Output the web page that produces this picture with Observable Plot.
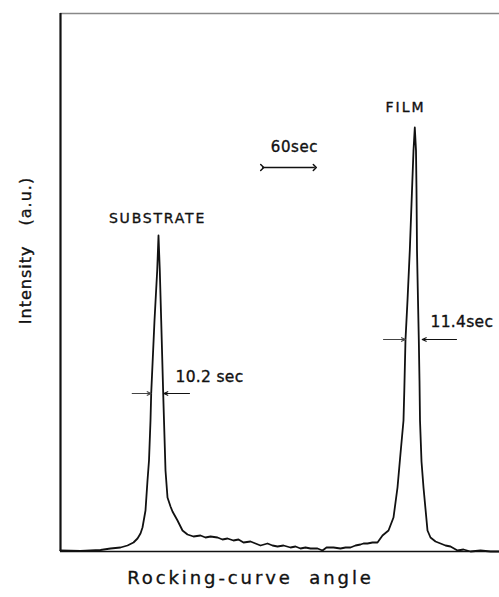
<!DOCTYPE html>
<html><head><meta charset="utf-8">
<script src="https://cdn.jsdelivr.net/npm/d3@7"></script>
<script src="https://cdn.jsdelivr.net/npm/@observablehq/plot@0.6"></script>
<style>
html,body{margin:0;padding:0;background:#fff;}
#chart svg{display:block;}
</style></head><body><div id="chart"></div>
<script>
// Rocking-curve scan (angle in arbitrary units, intensity in a.u.)
const angle = [0,20,40,50,60,67,73,77,80,82,85,87,88.5,90,90.7,94,96.7,98,99.3,100.7,102.7,103.5,105,107,110,112,117,122,127,133,140,145,150,157,162,167,173,178,183,190,195,200,207,212,217,223,230,235,240,245,250,257,262,266,273,280,285,290,295,300,303,307,312,317,322,328,333,337,340,343,343.8,345,347,349.3,351.5,353,354.3,355.5,356,356.5,357.5,358.3,359,359.5,361,363,367,370,375,380,385,390,397,403,410,420,430,439];
const intensity = [1,0.5,1.5,3,4,6,9,13,18,24,41,71,91,131,158,231,281,316,281,231,158,131,81,54,45,40,31,21,17,15,16,14,15,14,12,13,11,12,9,10,8,6,8,6,5,6,4,5,3,4,3,3,1,4,4,3,4,4,6,7,8,8,9,9,16,21,34,64,98,131,161,212,251,301,361,401,424,401,361,301,251,212,171,131,90,64,21,14,10,8,6,5,1,2,0,1,0,0];

// Peak labels
const peakNames = ["SUBSTRATE", "FILM"];
const peakNameX = [97, 345];
const peakNameY = [333, 444];

// FWHM annotations
const fwhmText = ["10.2 sec", "11.4sec"];
const fwhmTextX = [115, 370];
const fwhmTextY = [174, 229];
const halfMax = [158, 212];
const edgeLeft = [90.7, 345];
const edgeRight = [103.3, 361.7];
const tailLeft = [71.7, 323];
const tailRight = [129, 396];

// 60 sec scale bar
const scaleText = ["60sec"];
const scaleX1 = [201.7], scaleX2 = [254.3], scaleY = [384], scaleTextY = [404];

const xLabel = "Rocking-curve angle";
const yLabel = "Intensity (a.u.)";

const curve = angle.map((a, i) => ({angle: a, intensity: intensity[i]}));
const idx = [0, 1];
const ink = {fill: "#111", stroke: "#111", strokeWidth: 0.35};

const plot = Plot.plot({
  width: 499, height: 597,
  marginLeft: 60, marginRight: 0, marginTop: 13, marginBottom: 46,
  x: {domain: [0, 439], axis: null},
  y: {domain: [0, 538], axis: null},
  style: {fontFamily: "DejaVu Sans", background: "white", color: "#111"},
  marks: [
    Plot.ruleY([538], {stroke: "#888", strokeWidth: 1.5}),
    Plot.ruleY([0], {stroke: "#111", strokeWidth: 1.6}),
    Plot.ruleX([0], {stroke: "#111", strokeWidth: 2.2}),
    Plot.line(curve, {x: "angle", y: "intensity", stroke: "#111", strokeWidth: 1.8}),
    Plot.text(idx, {x: i => peakNameX[i], y: i => peakNameY[i], text: i => peakNames[i], fontSize: 14, ...ink}),
    Plot.text(idx, {x: i => fwhmTextX[i], y: i => fwhmTextY[i], text: i => fwhmText[i], textAnchor: "start", fontSize: 15.5, ...ink}),
    Plot.arrow(idx, {x1: i => tailLeft[i], y1: i => halfMax[i], x2: i => edgeLeft[i], y2: i => halfMax[i], stroke: "#444", strokeWidth: 1.1, headLength: 6, headAngle: 50}),
    Plot.arrow(idx, {x1: i => tailRight[i], y1: i => halfMax[i], x2: i => edgeRight[i], y2: i => halfMax[i], stroke: "#111", strokeWidth: 1.1, headLength: 6, headAngle: 50}),
    Plot.link([0], {x1: i => scaleX1[i], x2: i => scaleX2[i], y1: i => scaleY[i], y2: i => scaleY[i], stroke: "#111", strokeWidth: 1.5, markerStart: "arrow", markerEnd: "arrow"}),
    Plot.text([0], {x: i => (scaleX1[i] + scaleX2[i]) / 2 + 6, y: i => scaleTextY[i], text: i => scaleText[i], fontSize: 15, ...ink}),
    Plot.text([xLabel], {x: () => 190, frameAnchor: "bottom", dy: 32, text: d => d, fontSize: 18, ...ink}),
    Plot.text([yLabel], {y: () => 301, frameAnchor: "left", dx: -35, rotate: -90, textAnchor: "middle", text: d => d, fontSize: 16, ...ink})
  ]
});

document.getElementById("chart").appendChild(plot);
const sp = {
  "SUBSTRATE": ["1.8px", "0"],
  "FILM": ["2px", "0"],
  "10.2 sec": ["0.3px", "0"],
  "11.4sec": ["0.3px", "0"],
  "60sec": ["0.6px", "0"],
  "Rocking-curve angle": ["2.9px", "8px"],
  "Intensity (a.u.)": ["1px", "14px"]
};
d3.select(plot).selectAll("text").each(function() {
  const s = sp[this.textContent];
  if (s) d3.select(this).attr("letter-spacing", s[0]).attr("word-spacing", s[1]).style("letter-spacing", s[0]).style("word-spacing", s[1]);
});
</script></body></html>
